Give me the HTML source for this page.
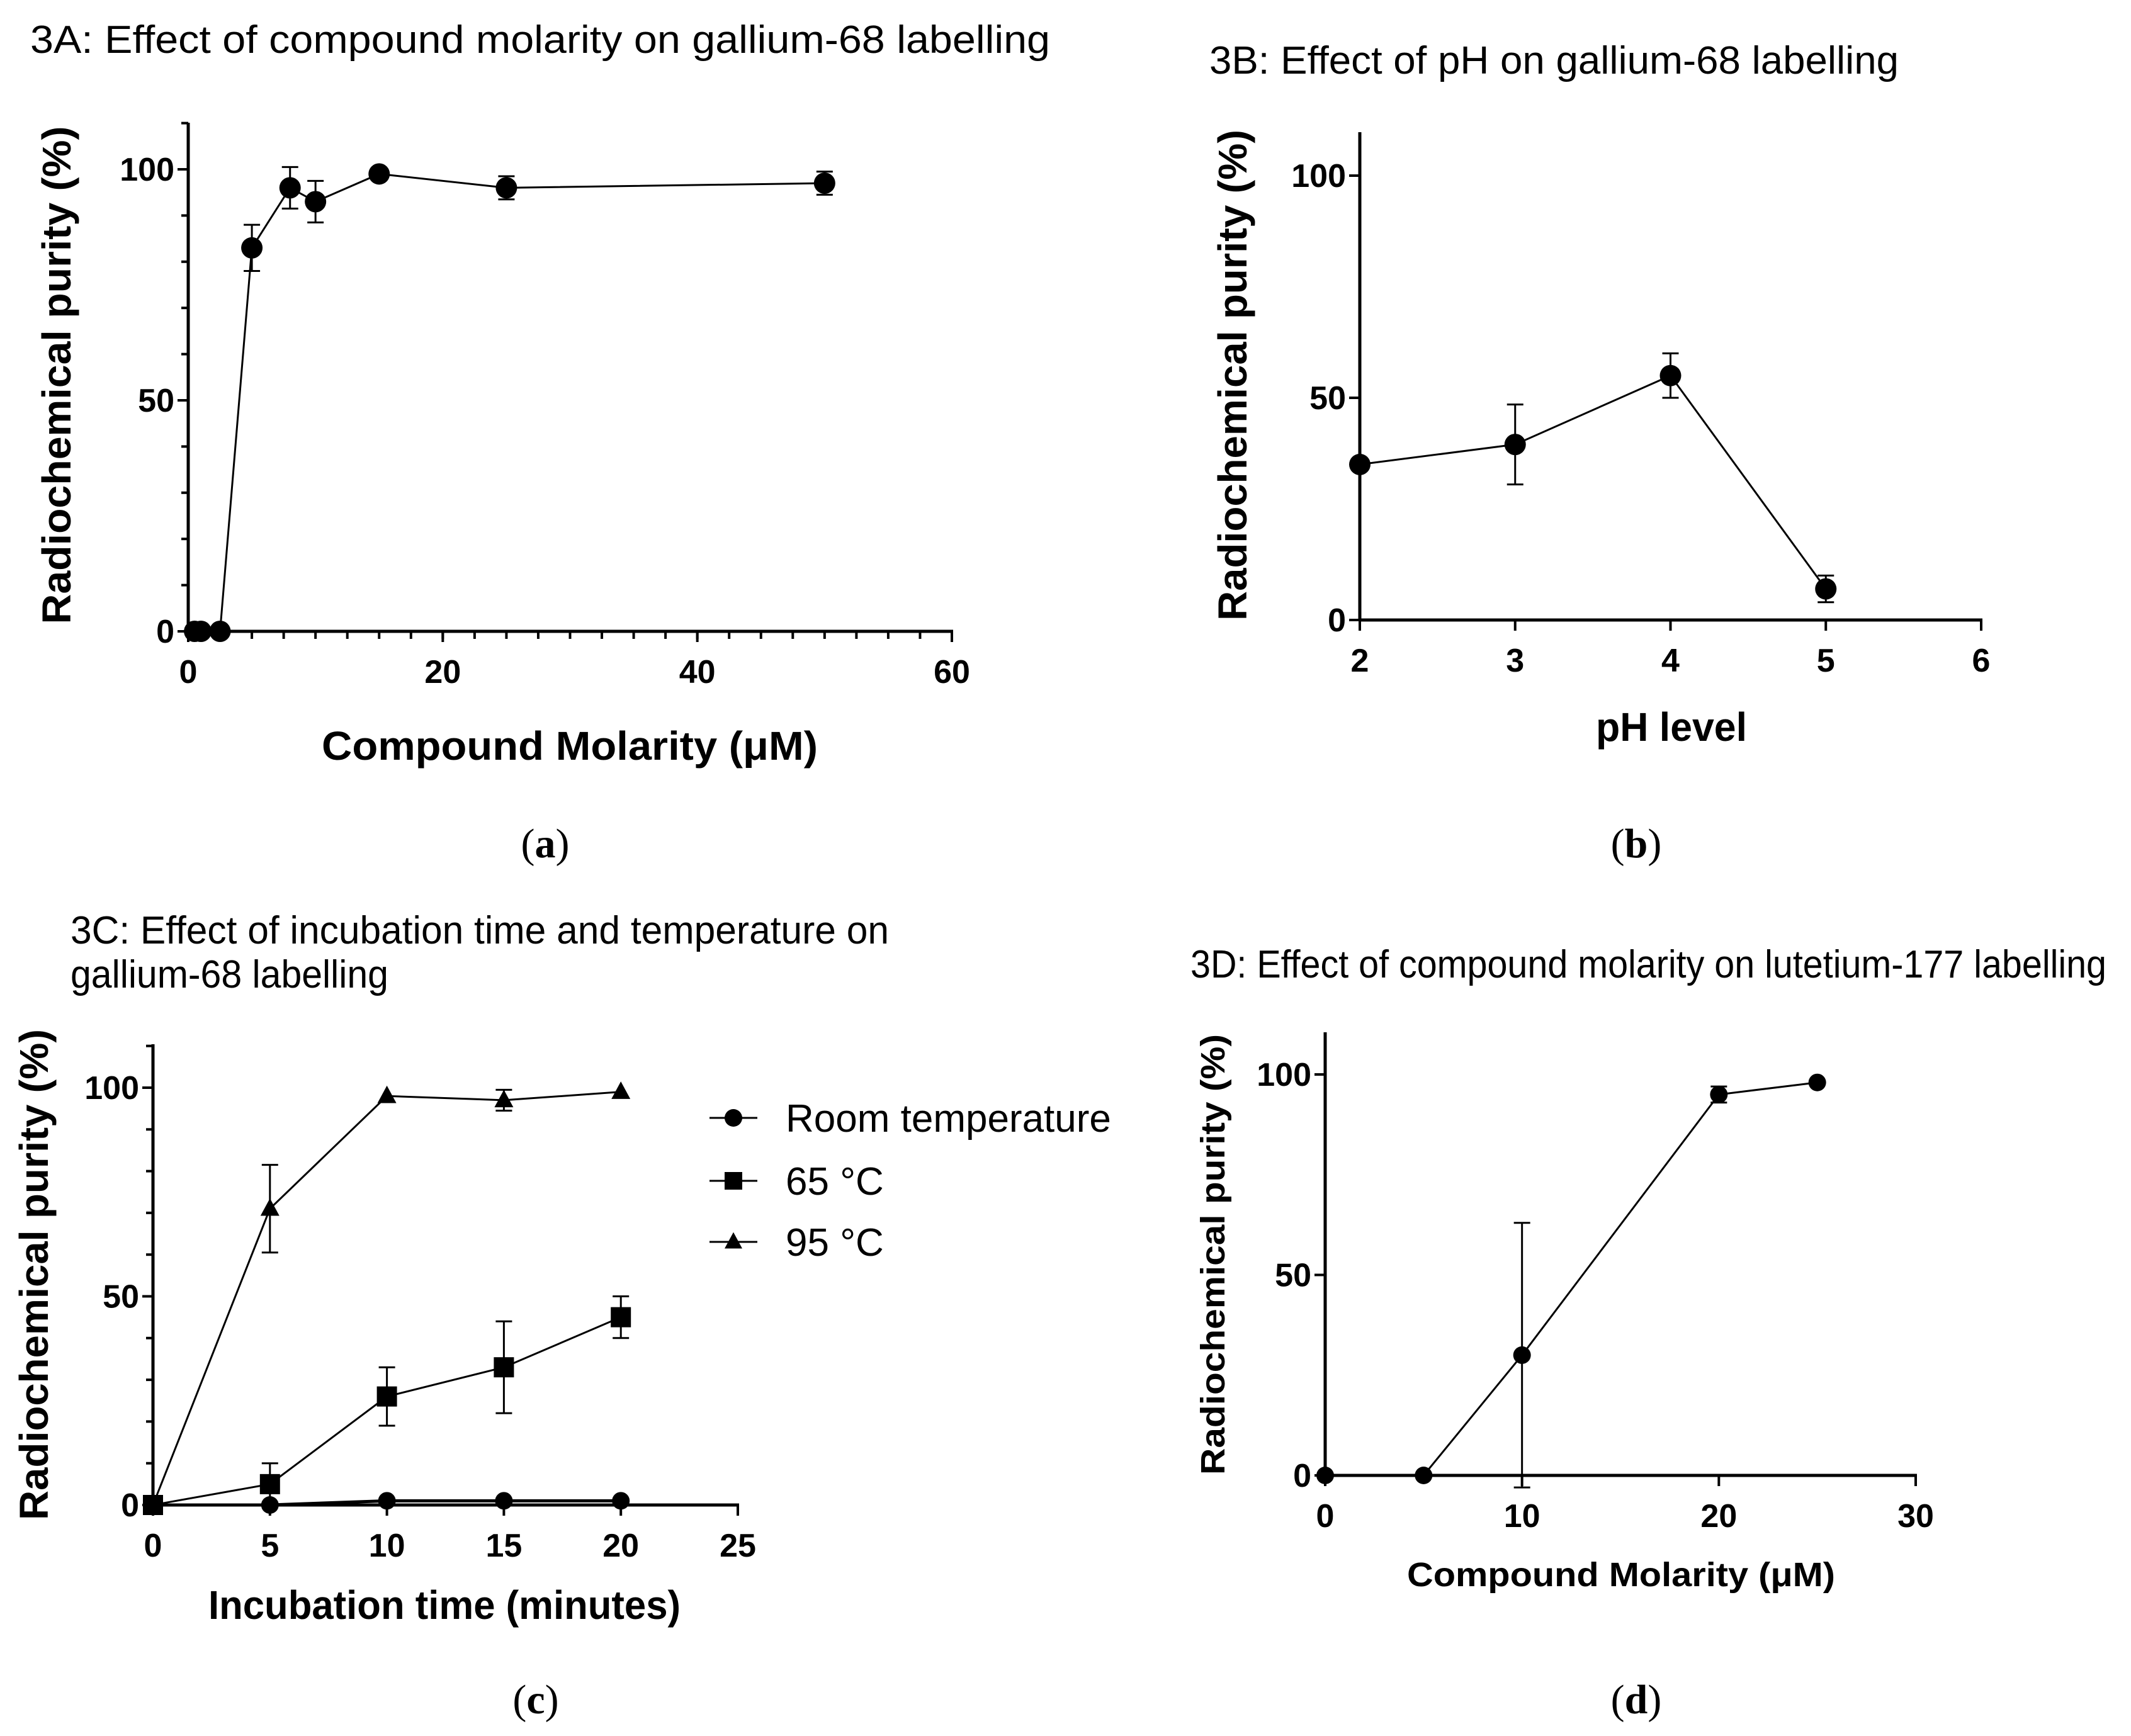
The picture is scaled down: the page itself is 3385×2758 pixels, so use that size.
<!DOCTYPE html>
<html><head><meta charset="utf-8"><style>
html,body{margin:0;padding:0;background:#fff}
svg{display:block}
text{font-family:"Liberation Sans",sans-serif;fill:#000}
.tk{font-weight:bold;font-size:52px}
.ax{font-weight:bold;font-size:64px}
.ti{font-size:62px}
.cap{font-family:"Liberation Serif",serif;font-size:66px}
</style></head><body>
<svg id="fig" width="3385" height="2758" viewBox="0 0 3385 2758" xmlns="http://www.w3.org/2000/svg">
<text class="ti" x="48" y="84" textLength="1620" lengthAdjust="spacingAndGlyphs">3A: Effect of compound molarity on gallium-68 labelling</text>
<text class="ti" x="1921" y="117" textLength="1095" lengthAdjust="spacingAndGlyphs">3B: Effect of pH on gallium-68 labelling</text>
<text class="ti" x="112" y="1499" textLength="1300" lengthAdjust="spacingAndGlyphs">3C: Effect of incubation time and temperature on</text>
<text class="ti" x="112" y="1569" textLength="505" lengthAdjust="spacingAndGlyphs">gallium-68 labelling</text>
<text class="ti" x="1891" y="1553" textLength="1455" lengthAdjust="spacingAndGlyphs">3D: Effect of compound molarity on lutetium-177 labelling</text>
<text class="cap" x="866" y="1362" text-anchor="middle">(<tspan font-weight="bold">a</tspan>)</text>
<text class="cap" x="2599" y="1362" text-anchor="middle">(<tspan font-weight="bold">b</tspan>)</text>
<text class="cap" x="851" y="2722" text-anchor="middle">(<tspan font-weight="bold">c</tspan>)</text>
<text class="cap" x="2599" y="2722" text-anchor="middle">(<tspan font-weight="bold">d</tspan>)</text>
</svg>
<script>
// Panel A data
const aX=[0.5,1,2.5,5,8,10,15,25,50];
const aY=[0,0,0,83,96,93,99,96,97];
const aErr=[0,0,0,5,4.5,4.5,0,2.5,2.5];
const aXTicks=[0,20,40,60];
const aYTicks=[0,50,100];
// Panel B data
const bX=[2,3,4,5];
const bY=[35,39.5,55,7];
const bErr=[0,9,5,3];
const bXTicks=[2,3,4,5,6];
const bYTicks=[0,50,100];
// Panel C data
const cX=[0,5,10,15,20];
const cRoom=[0,0,1,1,1];
const c65=[0,5,26,33,45];
const c65Err=[0,5,7,11,5];
const c95=[0,71,98,97,99];
const c95Err=[0,10.5,0,2.5,0];
const cXTicks=[0,5,10,15,20,25];
const cYTicks=[0,50,100];
const cLegend=["Room temperature","65 °C","95 °C"];
// Panel D data
const dX=[0,5,10,20,25];
const dY=[0,0,30,95,98];
const dErr=[0,0,33,2,0];
const dXTicks=[0,10,20,30];
const dYTicks=[0,50,100];

const NS="http://www.w3.org/2000/svg";
const svg=document.getElementById('fig');
function mk(tag,attrs,parent){const e=document.createElementNS(NS,tag);for(const k in attrs)e.setAttribute(k,attrs[k]);(parent||svg).appendChild(e);return e;}

function panel(p){
  const g=mk('g',{});
  
  
  const sx=v=>p.x0+(v-p.xmin)/(p.xmax-p.xmin)*(p.x1-p.x0);
  const sy=v=>p.y0+(v-0)/(100)*(p.y100-p.y0);
  const yTop=p.top;
  const ya=mk('line',{x1:p.x0,y1:p.y0+2,x2:p.x0,y2:yTop,stroke:'#000','stroke-width':5},g);
  
  
  const xa=mk('line',{x1:p.x0-2,y1:p.y0,x2:p.x1+2,y2:p.y0,stroke:'#000','stroke-width':5},g);
  
  
  p.yTicks.forEach(v=>{
    mk('line',{x1:p.x0-17,y1:sy(v),x2:p.x0,y2:sy(v),stroke:'#000','stroke-width':4},g);
    const t=mk('text',{class:'tk',x:p.x0-22,y:sy(v)+18,'text-anchor':'end'},g);t.textContent=v;
    
    
  });
  if(p.yMinor){for(let v=10;v<=110;v+=10){if(v%50&&sy(v)>=yTop)mk('line',{x1:p.x0-11,y1:sy(v),x2:p.x0,y2:sy(v),stroke:'#000','stroke-width':4},g);}}
  p.xTicks.forEach(v=>{
    mk('line',{x1:sx(v),y1:p.y0,x2:sx(v),y2:p.y0+17,stroke:'#000','stroke-width':4},g);
    const t=mk('text',{class:'tk',x:sx(v),y:p.y0+82,'text-anchor':'middle'},g);t.textContent=v;
    
    
  });
  if(p.xMinor){for(let v=p.xmin+p.xMinor;v<p.xmax;v+=p.xMinor){mk('line',{x1:sx(v),y1:p.y0,x2:sx(v),y2:p.y0+12,stroke:'#000','stroke-width':4},g);}}
  const xt=mk('text',{class:'ax',x:p.xlx,y:p.xly,'text-anchor':'middle',textLength:p.xlw,lengthAdjust:'spacingAndGlyphs',style:p.axStyle||''},g);xt.textContent=p.xlabel;
  
  
  const yt=mk('text',{class:'ax',x:0,y:0,'text-anchor':'middle',textLength:p.ylw,lengthAdjust:'spacingAndGlyphs',transform:`translate(${p.ylx},${p.yly}) rotate(-90)`,style:p.axStyle||''},g);yt.textContent='Radiochemical purity (%)';
  
  
  p.series.forEach(s=>{
    const sg=mk('g',{},g);
    
    
    const pts=s.x.map((v,i)=>sx(v)+','+sy(s.y[i])).join(' ');
    mk('polyline',{points:pts,fill:'none',stroke:'#000','stroke-width':s.lw||3},sg);
    s.x.forEach((v,i)=>{
      const e=s.err?s.err[i]:0;
      if(e>0){
        const cx=sx(v),a=sy(s.y[i]+e),b=sy(s.y[i]-e);
        mk('line',{x1:cx,y1:a,x2:cx,y2:b,stroke:'#000','stroke-width':3},sg);
        mk('line',{x1:cx-13,y1:a,x2:cx+13,y2:a,stroke:'#000','stroke-width':3},sg);
        mk('line',{x1:cx-13,y1:b,x2:cx+13,y2:b,stroke:'#000','stroke-width':3},sg);
      }
      drawMarker(s.marker,sx(v),sy(s.y[i]),s.r,sg);
    });
  });
  return {sx,sy};
}
function drawMarker(m,x,y,r,parent){
  let el;
  if(m==='circle')el=mk('circle',{cx:x,cy:y,r:r,fill:'#000'},parent);
  else if(m==='square')el=mk('rect',{x:x-r,y:y-r,width:2*r,height:2*r,fill:'#000'},parent);
  else el=mk('polygon',{points:`${x},${y-r*1.1} ${x-r},${y+r*0.75} ${x+r},${y+r*0.75}`,fill:'#000'},parent);
  
  
}

panel({name:'panel-a',x0:299,x1:1512,xmin:0,xmax:60,y0:1003,y100:269,top:195,
  xTicks:aXTicks,yTicks:aYTicks,xMinor:2.5,yMinor:true,
  xlabel:'Compound Molarity (μM)',xlx:905,xly:1207,xlw:788,ylx:112,yly:596,ylw:791,
  series:[{name:'series-a',x:aX,y:aY,err:aErr,marker:'circle',r:17}]});
panel({name:'panel-b',x0:2160,x1:3147,xmin:2,xmax:6,y0:985,y100:279,top:210,
  xTicks:bXTicks,yTicks:bYTicks,
  xlabel:'pH level',xlx:2655,xly:1177,xlw:240,ylx:1980,yly:596,ylw:780,
  series:[{name:'series-b',x:bX,y:bY,err:bErr,marker:'circle',r:17}]});
panel({name:'panel-c',x0:243,x1:1172,xmin:0,xmax:25,y0:2391,y100:1728,top:1659,
  xTicks:cXTicks,yTicks:cYTicks,yMinor:true,
  xlabel:'Incubation time  (minutes)',xlx:706,xly:2572,xlw:750,ylx:76,yly:2025,ylw:780,
  series:[
    {name:'series-room-temperature',x:cX,y:cRoom,marker:'circle',r:14,lw:5},
    {name:'series-65c',x:cX,y:c65,err:c65Err,marker:'square',r:16},
    {name:'series-95c',x:cX,y:c95,err:c95Err,marker:'triangle',r:15}]});
panel({name:'panel-d',x0:2105,x1:3043,xmin:0,xmax:30,y0:2344,y100:1707,top:1640,
  xTicks:dXTicks,yTicks:dYTicks,
  xlabel:'Compound Molarity (μM)',xlx:2575,xly:2520,xlw:680,ylx:1945,yly:1993,ylw:700,axStyle:'font-size:54px',
  series:[{name:'series-d',x:dX,y:dY,err:dErr,marker:'circle',r:14}]});

const lg=mk('g',{});


const markers=['circle','square','triangle'];
const rowsY=[1776,1876,1973];
cLegend.forEach((lab,i)=>{
  const e=mk('g',{},lg);
  
  
  mk('line',{x1:1127,y1:rowsY[i],x2:1203,y2:rowsY[i],stroke:'#000','stroke-width':3},e);
  drawMarker(markers[i],1165,rowsY[i],14,e);
  const t=mk('text',{class:'ti',x:1248,y:rowsY[i]+22},e);t.textContent=lab;
  
  
});
</script>
</body></html>
